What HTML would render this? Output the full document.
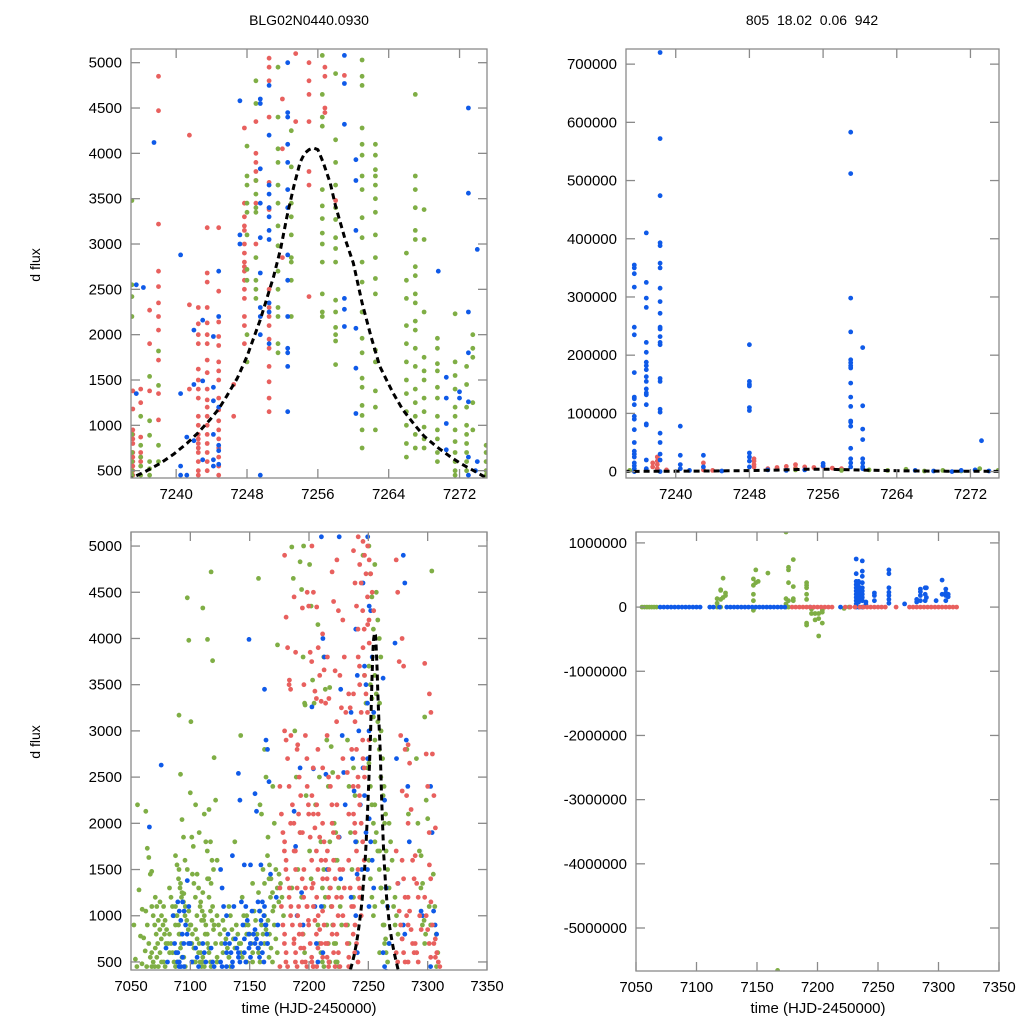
<!DOCTYPE html>
<html><head><meta charset="utf-8"><style>
body{margin:0;background:#fff}
svg{display:block;font-family:"Liberation Sans",sans-serif}
</style></head><body>
<svg id="chart" width="1024" height="1024" viewBox="0 0 1024 1024" xmlns="http://www.w3.org/2000/svg">
<rect width="1024" height="1024" fill="#fff"/>
<text x="309" y="25" font-size="14" text-anchor="middle">BLG02N0440.0930</text>
<text x="812" y="25" font-size="14" text-anchor="middle" xml:space="preserve">805  18.02  0.06  942</text>
<text transform="translate(40,265) rotate(-90)" font-size="14" text-anchor="middle">d flux</text>
<text transform="translate(40,742) rotate(-90)" font-size="14" text-anchor="middle">d flux</text>
<text x="309" y="1013" font-size="15" text-anchor="middle">time (HJD-2450000)</text>
<text x="818" y="1013" font-size="15" text-anchor="middle">time (HJD-2450000)</text>
</svg>
<script>
// ---- data ----
const modelT = [7230,7234.9,7236.5,7238.2,7239.7,7241.2,7242.5,7243.8,7244.8,7245.7,7246.9,7248,7249.5,7251,7251.8,7252.5,7253.3,7254,7254.5,7255,7255.5,7256,7256.6,7257.4,7258,7259,7260,7261,7262,7263,7264.5,7265.6,7266.8,7268,7269.4,7270.8,7272.1,7273.6,7275.1,7280];
const modelF = [330,416,490,580,680,800,920,1060,1180,1320,1520,1760,2165,2640,2950,3300,3640,3900,4000,4040,4060,4040,3900,3670,3417,3080,2790,2350,1980,1650,1355,1170,1020,880,765,665,580,500,416,320];

const tlRed = "7235.1:1380,1180,950,900,850,800,700,650,600,550,500,450;7236:1400,1250,870,700,650,600;7237:2270,1900,1380;7238:4850,4470,3220,2700,2530,2350,2200,2050,1720,1350,1060;7241.5:4200,2330,1400;7242.5:2300,2120,2000,1900,1620,1500,1400,1300,1100,1000,900,850,800,750,700,600,500,450;7243.5:3180,2680,2580,2300,2130,2000,1900,1720,1580,1400,1280,1200,1100,1000,900,800,700,600,500;7244.8:3180,2480,2140,1980,1880,1700,1600,1500,1300,1170,1050,950,850,750,650,550,450;7246.5:1450,1100;7247.7:4280,3450,3300,3200,3150,3000,2900,2800,2750,2700,2600,2500,2400,2200,2100,1900;7249:4350,4000,3900,3800,3700,3450,3000;7250.5:5050,4950,4800,4400,3680,3400,3380,2500,2300,2200,2100,1950,1850,1650,1480,1300,1150;7252:4600,4050,2850;7253.5:5100,4350;7255:5000,4800,4650,4350,3800,3650,2420;7256.8:4950,4850,4500,4450;7258:3480;7259:4860";
const tlGreen = "7235:3480,2550,2420,2200,900,700,600,500,450;7236:1100,780,650,550,450;7237:1540,1050,890,600,520,450;7238:1820,1440,780,600;7248:4080,3750,3650,3450,3350,3100,2720,2600,2000,1700;7249:4800,4550,3700,3550,3400,3350,2850,2600,2500,2400;7251.5:4950,4400,4050,3900,3650,3450,3200,2980,2700,2500,2300,2200,1900,1800;7253:4250,3850,3450,3300,3100,2850,2800,2600,2200;7256.5:5080,4650,4400,4300,3600,3420,3280,3120,3000,2800,2450,2250,2200;7258:4880,4150,3900,3650,3400,3270,3070,2950,2800,2380,2250,2080,2000,1930,1670;7261:5030,4850,4750,4280,4100,3980,3750,3600,3290,3070,2800,2580,2250,1960,1800,1520,1420,1220,1110,950,750;7262.5:4100,3980,3820,3750,3650,3500,3350,3100,2850,2620,2450,1830,1700,1380,1200,950;7266:2900,2600,2400,2100,1900,1700,1500,1350,1150,1000,800,650;7267:4650,3750,3600,3400,3150,3050,2750,2650,2450,2350,2150,2050,1850,1650,1400,1250,1100,900,750;7268:3380,3050,2250,1750,1600,1500,1300,1150,980,850,750;7269.5:1960,1850,1680,1600,1420,1300,1100,950,850,700,600;7271.5:2230,1700,1550,1400,1200,1100,950,820,700,600,500,450;7272.8:1650,1450,1200,1000,900,800,700,600,500;7273.5:2000,1850,1750,1250,950;7275:780,700,600,500,450";
const tlBlue = "7235.5:2550,1350;7236.3:2520;7237.5:4120;7240.5:2880,1350,550,450;7241.2:870,450;7242:2050,1450,830;7243:2160,1490,620;7244.2:1980,1420,1270,900,620,550;7244.8:2700,2200,1200,780,720,570;7247.2:4580,3100,3000;7249.5:4600,4550,3830,3450,3070,2680,2300,2200,2000,450;7250.5:4750,4200,3650,3550,3400,3300,3150,3050,2350,2250,1900;7252.6:5000,4450,4400,4100,3900,3600,3400,2880,2600,2200,1850,1800,1650,1150;7259:5080,4770,4320,2400,2280,2090;7260.3:3930,3700,3150,2070,1630,1130;7269.6:2700;7270.5:1530,1300,1020,730;7272:1370,1300;7273:4500,3560,2250,1800,1260,650,450;7274:2940,600;7273.8:500";

const trBlue = "7235.5:340000,355000,350000,317000,248000,235000,170000,128000,125000,115000,95000,90000,72000,50000,35000,30000,25000,15000,10000,5000,0;7236.8:410000,325000,298000,282000,222000,205000,188000,182000,175000,163000,155000,142000,135000,132000,115000,82000,80000,20000,5000;7238.3:720000,572000,474000,393000,388000,358000,350000,315000,292000,272000,248000,245000,232000,222000,218000,160000,155000,107000,102000,66000,50000,30000,20000,0;7240.5:78000,28000,12000,5000;7243:28000,8000;7248:218000,155000,150000,147000,110000,105000,32000,25000,18000,8000;7256:14000,10000;7259:583000,512000,298000,240000,192000,187000,182000,178000,152000,128000,112000,87000,85000,78000,40000,22000,15000,8000;7260.3:213000,113000,73000,55000,22000,15000,8000,5000;7273.2:53000;7241.5:2000;7245:1000;7250:3000;7252:2000;7254:3000;7266:2000;7268:1000;7270:0;7271:2000;7272.5:3000;7274:1000";
const trRed = "7237.5:15000,8000;7238:25000,18000,12000,5000;7239:3000;7243:15000,3000;7244:2000;7248.5:22000,18000,12000,8000;7250:5000;7251:7000;7252:9000;7253:12000,6000;7254:8000;7255:7000;7256:9000;7257:6000;7258:5000;7276:0";
const trGreen = "7235:2000;7253:3000;7258:2000;7261:3000;7263:2000;7265:4000;7267:1000;7269:2000;7271:1000;7273:5000;7275:2000";

const blGreen = "7055:900,530,450;7058:2200,1280,780,480;7062:1070,760,620,450;7065:2130,1730,1630,1450,1100,1050,900,700,550,450;7070:1480,1000,900,800,700,600,500,450;7073:1200,1100,950,850,750,650,550,450;7077:1150,1000,900,800,700,600,500;7080:1100,950,850,700,600,500,450;7085:1300,1200,1100,1000,900,800,700,600,500,450;7090:1650,1550,1400,1300,1200,1100,1000,900,800,700,600,500;7093:3170,2530,2040,1850,1600,1500,1350,1250,1150,1000,800,650,550;7097:1240,1100,950,850,700,550,450;7100:4440,3980,2330,1850,1750,1500,1050,900,700,500;7103:3100,1450,1350,1200,1000,900,800,650,500;7107:2200,1450,1300,1100,950,850,750,600,500,450;7110:1900,1150,1050,950,800,700,600,500;7113:4330,2100,1800,1700,1400,1250,1000,900,800,650,550,450;7117:3990,2150,1800,1600,1500,1400,1200,1050,950,850,700,600,500;7120:4720,3760,2710,2250,1600,1350,1100,900,700,550,450;7125:1000,900,800,700,600,500;7130:950,850,750,650,550;7135:1100,1000,850,750,650,550,450;7140:1800,900,800,700,600;7145:2950,1200,1000,900,800,700,550;7150:1000,900,800,700,600,500;7155:1350,1050,950,800,650,500;7160:4650,2200,2100,1500,1350,1250,1050,900,800,700,600,500;7165:2800,2500,1650,1400,1200,1000,850,700,550;7168:1850,1550,1400,1250,1100,950,800,650,500;7172:2400,2000,1500,1300,1150,1050,900,750,600;7176:3930,1450,1350,1200,1000;7188:4990,4650,3000,2500,1500,1300;7195:4830,4530,3800,3300,2300,1900,1200,800,600;7198:5000,3280;7203:4800,4350,3550,3300,2200,1700,1400;7210:4150,2500,1800,1300,1100,900,700,600,500,450;7215:3800,3450,2900,2400,1800,1500,1200,900,700,500;7220:3470,2830,2550,2000,1600,1300,1100,900,700,500;7225:1900,1600,1300,1100,900,700,500,450;7235:2900,2400,1900,1500,1200,900,700;7240:2600,2300,1800,1400;7248:4900,3600,3300,2600;7253:5000,4700,4450,4100,3900,3700,3500,3350,3150,2900,2650,2400,2200,2000,1800,1600,1400,1200,1000;7258:4800,4500,4200,4000,3800,3600,3400,3100,2800,2500,2200,1900,1700,1500,1300,1100;7262:3300,3000,2700,2400,2100,1700,1300,1150,900,750,600;7265:2300,2000,1700,1500,1300,900,700,600,500;7270:2000,1800,1600,1100,900,700;7275:1200,1000,800;7285:2800,2100;7293:2700,2000,1700,1300,900;7297:1650,1350,950,800;7300:3150,2250,2050,1100,900,700;7306:4730,1450,1100,800,600;7310:450";
const blBlue = "7068:1960;7078:2630;7082:650,500;7088:1000,700,600,500,450;7092:1150,1050,950,800,700,600,500,450;7096:1150,1050,900,800,700,550,450;7100:1380,1100,700,500;7107:650,550,450;7113:700,600,500;7120:650,500,450;7128:1500,1300,1100,700,600,500,450;7133:1000,800,700,600,500,450;7138:1650,1100,750,650,550,450;7143:2540,2250,1150,900,750,600,500;7148:1550,1100,950,800,700,600,500;7152:3990,1550,1050,800,700,650,550;7157:2320,2130,1150,1050,950,850,750,650,550;7162:1550,1150,1000,900,800,700,600,500;7165:3450,2900,2800,2450,1450,1100,900,700;7175:1200,900;7190:2130,1750,1000;7195:2600,1250,900;7205:3260,2590,1100,700,500;7213:5100,4000,3800,2530,1500,1100,600;7228:5100,3450,2950,2550,2200,1850,1400;7238:3200,2700,2350,1800,1450,1200;7242:4100,3600,3000,2200,1500,1000,600;7248:4600,3700,3500,3300,3000,2600,2300,1900,1500,1100;7252:5100,4350,4300,3800,3200,2700,2050,1800,1600,1300;7265:3570,2250,1300,1100,700,600,450,400;7275:3950,2700,1350;7282:4900,4600,2900,2400,1800,900,800;7297:1050,1000;7305:2400,1900,1050,900,800,450";
const blRed = "7178:2400,2100,1900,1700,1500,1300,1100,900,700,500,450;7182:4900,4230,3900,3500,3450,3000,2900,2700,2400,2000,1800,1600,1400,1200,1000,800,600,450;7186:3550,2950,2200,2000,1700,1300,1100,900,700,500;7190:4450,3850,2800,2100,1900,1700,1500,1300,1100,900,750,600,450;7193:2850,2500,2300,1400,1200,1000,800,650,500;7197:4330,3500,2950,2700,2200,1900,1500,1300,1100,950,800,650,500,450;7201:4500,4350,3850,3750,2600,2400,2100,1850,1600,1350,1100,900,700,550,450;7205:5000,4500,3430,3350,2800,2300,2100,1950,1700,1500,1300,1100,950,800,650,500,450;7209:4340,3900,3600,3320,2600,2200,2100,1850,1600,1400,1200,1000,850,700,550,450;7214:4050,3660,3300,2950,2500,2000,1800,1600,1400,1200,1050,900,700,550,450;7218:3800,3350,2400,2200,1900,1700,1500,1300,1100,900,700,500;7222:4720,4400,3650,3100,2500,2000,1600,1400,1200,1000,800,600,450;7226:4850,4300,3600,3250,2700,2200,1850,1500,1200,1000,800,600,450;7231:4200,3800,3200,2550,2100,1500,1300,900,700,550;7236:3400,3250,2800,2400,2000,1600,1300,1100,800,600,450;7240:4950,4600,4350,4100,3700,3400,3100,2800,2500,2300,2100,1900,1700,1500,1300,1100,900,700,500;7244:5100,4800,4600,4300,4100,3800,3500,3200,2900,2600,2400,2200,2000,1800,1600,1400,1200,1000;7248:5050,4900,4700,4450,4200,3900,3600,3400,3200,2900,2700,2500;7252:5000,4850,4700,4500,4300,4150,3950;7276:4850,4500,3750,2950,2350,1700,1350,1050,900,750,600,500;7281:4000,3700,2800,2300,2000,1600,1400,1200,1000,900,750,600,500;7286:2850,2650,2150,1600,1400,1200,1050,850,700,600,500;7292:1650,1350,1200,1000,850,700,600,500;7300:3730,2750,2400,1900,1400,1200,1000,850,700,550;7304:3400,3200,2750,2300,1950,1550,1150,900,700,550;7309:750,600,500,450";

const brGreen = "7055:0;7057:0;7059:0;7061:0;7063:0;7065:0;7067:0;7117:130000,60000,0;7120:260000,270000,120000,0;7122:450000,150000;7124:180000,220000;7147:440000,340000,200000,100000,-50000;7149:580000,380000;7151:400000;7159:530000;7174:1170000,130000,50000,0;7176:620000,580000,380000,100000,0;7180:740000,320000,130000,100000;7191:380000,340000,300000,200000,120000,-280000,-250000;7195:-30000,-100000;7198:-100000,-200000;7201:-450000,-180000,-100000;7204:-250000,-80000,-50000;7167:-5660000;7222:-20000;7226:0";
const brBlue = "7070:0;7073:0;7076:0;7079:0;7082:0;7085:0;7088:0;7091:0;7094:0;7097:0;7100:0;7103:0;7111:0;7114:0;7119:0;7125:0;7128:0;7131:0;7134:0;7137:0;7140:0;7143:0;7146:0;7149:0;7152:0;7155:0;7158:0;7161:0;7164:0;7167:0;7170:0;7173:0;7194:0;7219:0;7232:750000,520000,400000,350000,300000,250000,200000,150000,100000,50000,0;7234:400000,380000,320000,280000,230000,180000,130000,80000,0;7237:720000,560000,480000,380000,300000,250000,200000,150000,100000,0;7240:80000,40000;7247:220000,180000,100000;7259:580000,520000,300000,230000,180000,120000,60000;7272:50000;7282:120000,80000;7285:280000,240000,180000,100000;7289:300000,200000,100000;7290:300000,150000;7298:100000;7303:420000,200000;7306:280000,220000,180000,100000;7308:200000,160000";
const brRed = "7179:0;7182:0;7185:0;7188:0;7191:0;7194:0;7197:0;7200:0;7203:0;7206:0;7209:0;7212:0;7223:0;7227:0;7231:0;7235:0;7238:0;7241:0;7244:0;7247:0;7250:0;7253:0;7256:0;7265:0;7276:0;7279:0;7282:0;7285:0;7288:0;7291:0;7294:0;7297:0;7300:0;7303:0;7306:0;7309:0;7312:0;7315:0";

const tickTop = [7240,7248,7256,7264,7272];
const tickBot = [7050,7100,7150,7200,7250,7300,7350];
const tickFlux = [500,1000,1500,2000,2500,3000,3500,4000,4500,5000];
const tickTR = [0,100000,200000,300000,400000,500000,600000,700000];
const tickBR = [1000000,0,-1000000,-2000000,-3000000,-4000000,-5000000];

const COL = {red:"#e8605e", green:"#7fae45", blue:"#0f5ae8"};
const NS = "http://www.w3.org/2000/svg";
const svg = document.getElementById('chart');

function parseCols(s){const out=[];s.split(';').forEach(c=>{const [x,ys]=c.split(':');ys.split(',').forEach((y,k)=>out.push([+x,+y,k]));});return out;}
function mk(tag,attrs,parent){const e=document.createElementNS(NS,tag);for(const k in attrs)e.setAttribute(k,attrs[k]);(parent||svg).appendChild(e);return e;}

function panel(id,box,xd,yd,xt,yt,series,spread,showModel){
  const [L,T,R,B]=box;
  const sx=v=>L+(v-xd[0])/(xd[1]-xd[0])*(R-L);
  const sy=v=>B-(v-yd[0])/(yd[1]-yd[0])*(B-T);
  const g=mk('g',{});
  
  
  const cp=mk('clipPath',{id:id+'-clip'},g);mk('rect',{x:L,y:T,width:R-L,height:B-T},cp);
  const pts=mk('g',{'clip-path':'url(#'+id+'-clip)'},g);
  
  
  series.forEach(([name,str])=>{
    const sg=mk('g',{fill:COL[name]},pts);
    
    
    parseCols(str).forEach(([x,y,k])=>{
      const off=spread?((k%5)-2)*spread:0;
      const c=mk('circle',{cx:(sx(x)+off).toFixed(1),cy:sy(y).toFixed(1),r:2.4},sg);
      
      
    });
  });
  if(showModel){
    const d=modelT.map((t,i)=>(i?'L':'M')+sx(t).toFixed(1)+','+sy(modelF[i]).toFixed(1)).join('');
    const p=mk('path',{d:d,fill:'none',stroke:'#000','stroke-width':3,'stroke-dasharray':'6,4','stroke-linejoin':'round'},pts);
    
    
  }
  const fr=mk('rect',{x:L,y:T,width:R-L,height:B-T,fill:'none',stroke:'#8a8a8a','stroke-width':1.3},g);
  
  
  xt.forEach(v=>{const x=sx(v);
    mk('line',{x1:x,x2:x,y1:B,y2:B-9,stroke:'#8a8a8a','stroke-width':1.3},g);
    mk('line',{x1:x,x2:x,y1:T,y2:T+9,stroke:'#8a8a8a','stroke-width':1.3},g);
    const t=mk('text',{x:x,y:B+21,'font-size':15,'text-anchor':'middle'},g);t.textContent=v;
    
    
  });
  yt.forEach(v=>{const y=sy(v);
    mk('line',{x1:L,x2:L+9,y1:y,y2:y,stroke:'#8a8a8a','stroke-width':1.3},g);
    mk('line',{x1:R,x2:R-9,y1:y,y2:y,stroke:'#8a8a8a','stroke-width':1.3},g);
    const t=mk('text',{x:L-9,y:y+5,'font-size':15,'text-anchor':'end'},g);t.textContent=v;
    
    
  });
}

panel('top-left',[131,49,487,478],[7234.9,7275.1],[419,5151],tickTop,tickFlux,[['red',tlRed],['green',tlGreen],['blue',tlBlue]],0,true);
panel('top-right',[626,49,999,478],[7234.6,7275.1],[-11000,726000],tickTop,tickTR,[['red',trRed],['green',trGreen],['blue',trBlue]],0,true);
panel('bottom-left',[131,532,487,970],[7050,7350],[413,5152],tickBot,tickFlux,[['green',blGreen],['blue',blBlue],['red',blRed]],1.5,true);
panel('bottom-right',[636,532,999,971],[7050,7350],[-5670000,1170000],tickBot,tickBR,[['green',brGreen],['blue',brBlue],['red',brRed]],0,false);
</script>
</body></html>
